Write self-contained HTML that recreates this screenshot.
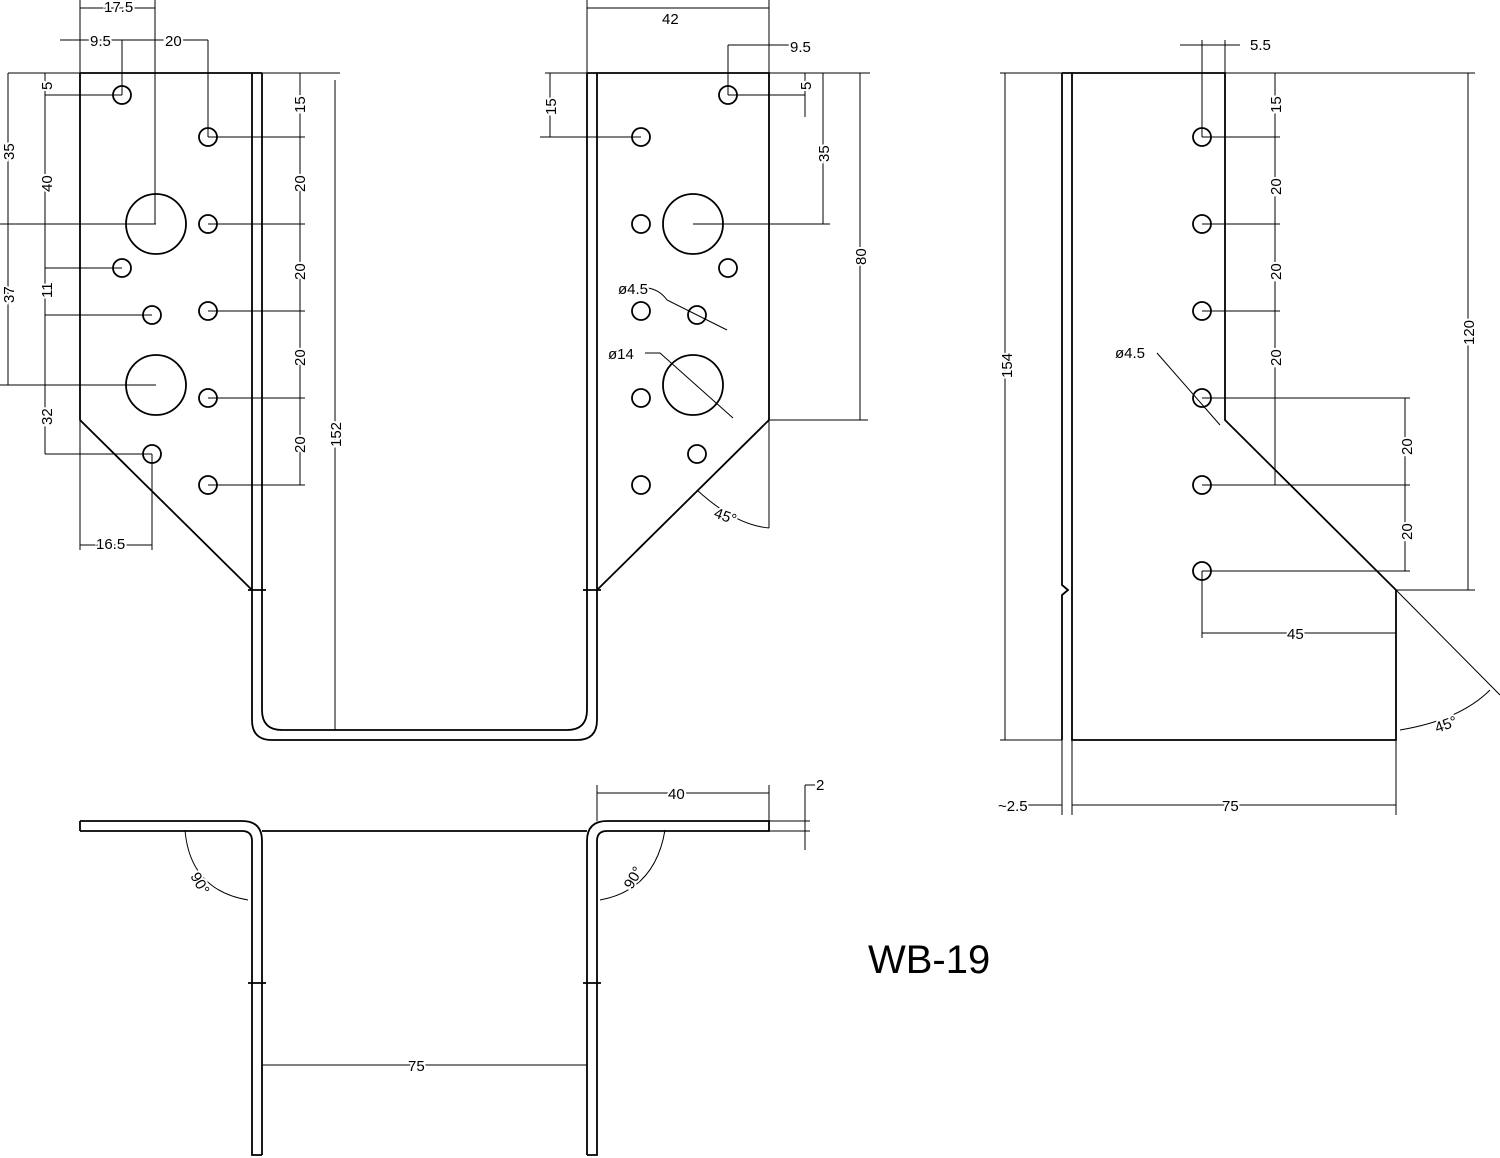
<!DOCTYPE html>
<html><head><style>body{margin:0;background:#fff}svg{display:block}text{font-family:"Liberation Sans",sans-serif;font-size:15px;fill:#000;stroke:#fff;stroke-width:4px;paint-order:stroke}</style></head><body>
<svg width="1500" height="1158" viewBox="0 0 1500 1158" xmlns="http://www.w3.org/2000/svg">
<g fill="none" stroke="#000" stroke-width="1">
<path d="M80,0 V73 M155,0 V224 M80,8 H155 M60,40 H208 M122,40 V95 M208,40 V137 M8,73 H340 M8,73 V385 M0,224 H156 M0,385 H156 M45,73 V454 M45,95 H122 M45,268 H122 M45,315 H152 M45,454 H152 M300,73 V485 M208,137 H305 M208,224 H305 M208,311 H305 M208,398 H305 M208,485 H305 M335,80 V730 M80,420 V550 M152,454 V550 M80,545 H152"/>
<path d="M587,8 H769 M587,0 V73 M769,0 V73 M728,45 H790 M728,45 V95 M545,73 H600 M550,73 V137 M540,137 H641 M805,73 V117 M805,95 H728 M769,73 H870 M823,73 V224 M693,224 H830 M860,73 V420 M769,420 H868 M769,420 V528 M697,490 Q735,525 769,528 M648,288 Q660,290 667,300 L727,330 M645,353 H660 L733,418"/>
<path d="M1180,45 H1240 M1202,40 V137 M1225,40 V73 M1225,73 H1475 M1275,73 V485 M1202,137 H1280 M1202,224 H1280 M1202,311 H1280 M1202,398 H1410 M1202,485 H1410 M1202,571 H1410 M1405,398 V571 M1468,73 V590 M1396,590 H1475 M1202,571 V638 M1202,633 H1396 M1000,73 H1062 M1000,740 H1062 M1005,73 V740 M1072,740 V815 M1062,740 V815 M1020,805 H1062 M1072,805 H1396 M1396,740 V815 M1157,353 L1220,425 M1396,590 L1500,695 M1400,730 Q1460,720 1490,690"/>
<path d="M597,785 V821 M769,785 V821 M597,793 H769 M769,821 H810 M769,831 H810 M805,785 V850 M805,785 H815 M262,1065 H587 M185,830 Q190,890 248,900 M600,900 Q655,890 665,830"/>
</g>
<g fill="none" stroke="#000" stroke-width="1.8">
<path d="M80,73 H262 M80,73 V420 L252,590 M252,73 V720 Q252,740 272,740 H577 Q597,740 597,720 V73 M262,73 V710 Q262,730 282,730 H567 Q587,730 587,710 V73 M587,73 H769 V420 L597,590 M248,590 H266 M583,590 H601"/>
<circle cx="122" cy="95" r="9"/><circle cx="208" cy="137" r="9"/><circle cx="208" cy="224" r="9"/><circle cx="122" cy="268" r="9"/><circle cx="152" cy="315" r="9"/><circle cx="208" cy="311" r="9"/><circle cx="208" cy="398" r="9"/><circle cx="152" cy="454" r="9"/><circle cx="208" cy="485" r="9"/>
<circle cx="156" cy="224" r="30"/><circle cx="156" cy="385" r="30"/>
<circle cx="728" cy="95" r="9"/><circle cx="641" cy="137" r="9"/><circle cx="641" cy="224" r="9"/><circle cx="728" cy="268" r="9"/><circle cx="641" cy="311" r="9"/><circle cx="697" cy="315" r="9"/><circle cx="641" cy="398" r="9"/><circle cx="697" cy="454" r="9"/><circle cx="641" cy="485" r="9"/>
<circle cx="693" cy="224" r="30"/><circle cx="693" cy="385" r="30"/>
<path d="M1062,73 V585 L1068,590 L1062,595 V740 M1072,73 V740 H1396 V590 M1062,73 H1225 V420 L1396,590"/>
<circle cx="1202" cy="137" r="9"/><circle cx="1202" cy="224" r="9"/><circle cx="1202" cy="311" r="9"/><circle cx="1202" cy="398" r="9"/><circle cx="1202" cy="485" r="9"/><circle cx="1202" cy="571" r="9"/>
<path d="M80,821 H242 Q262,821 262,841 V1155 M80,831 V821 M80,831 H242 Q252,831 252,841 V1155 H262 M262,831 H587 M587,1155 V841 Q587,821 607,821 H769 V831 H607 Q597,831 597,841 V1155 H587 M248,983 H266 M583,983 H601"/>
</g>
<g>
<text x="104" y="12">17.5</text><text x="90" y="46">9.5</text><text x="165" y="46">20</text>
<text x="662" y="24">42</text><text x="790" y="52">9.5</text><text x="1250" y="50">5.5</text>
<text x="96" y="549">16.5</text><text x="408" y="1071">75</text><text x="668" y="799">40</text><text x="816" y="790">2</text>
<text x="1287" y="639">45</text><text x="1222" y="811">75</text><text x="998" y="811">~2.5</text>
<text x="618" y="294">ø4.5</text><text x="608" y="359">ø14</text><text x="1115" y="358">ø4.5</text>
<text x="713" y="517" transform="rotate(20 713 517)">45°</text><text x="1437" y="733" transform="rotate(-20 1437 733)">45°</text>
<text x="190" y="876" transform="rotate(60 190 876)">90°</text><text x="632" y="890" transform="rotate(-60 632 890)">90°</text>
<g transform="rotate(-90)">
<text x="-90" y="52">5</text><text x="-160" y="14">35</text><text x="-192" y="52">40</text><text x="-303" y="14">37</text><text x="-298" y="52">11</text><text x="-425" y="52">32</text>
<text x="-113" y="305">15</text><text x="-192" y="305">20</text><text x="-280" y="305">20</text><text x="-366" y="305">20</text><text x="-453" y="305">20</text><text x="-447" y="341">152</text>
<text x="-115" y="556">15</text><text x="-90" y="811">5</text><text x="-162" y="829">35</text><text x="-265" y="866">80</text>
<text x="-113" y="1281">15</text><text x="-195" y="1281">20</text><text x="-280" y="1281">20</text><text x="-366" y="1281">20</text><text x="-455" y="1412">20</text><text x="-540" y="1412">20</text><text x="-345" y="1474">120</text><text x="-378" y="1012">154</text>
</g>
<text x="868" y="973" style="font-size:40px">WB-19</text>
</g>
</svg>
</body></html>
